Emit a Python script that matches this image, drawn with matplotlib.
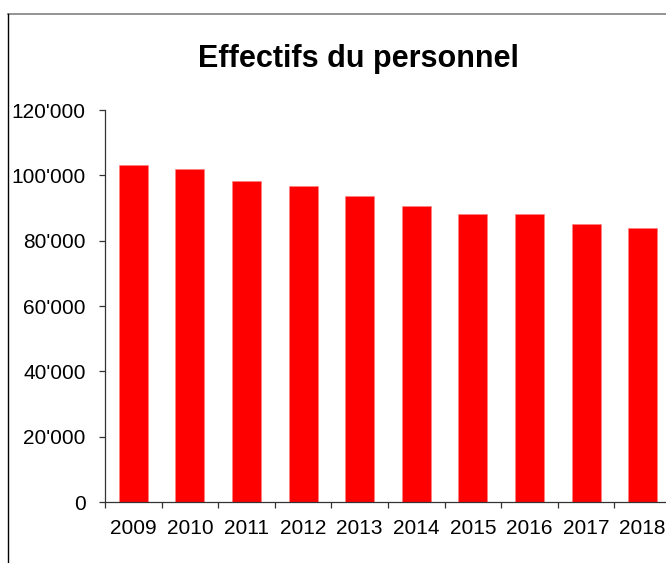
import matplotlib
matplotlib.use('Agg')
import matplotlib.pyplot as plt
from matplotlib.lines import Line2D
from matplotlib.ticker import FuncFormatter, FixedLocator

plt.rcParams['font.family'] = ['Liberation Sans', 'DejaVu Sans']

years = ['2009', '2010', '2011', '2012', '2013', '2014', '2015', '2016', '2017', '2018']
effectifs = [103100, 101900, 98300, 96700, 93800, 90500, 88200, 88100, 85000, 83800]

W, H = 666, 563
fig = plt.figure(figsize=(W / 100, H / 100), dpi=100)

# cadre du graphique (coupe a droite et en bas)
fig.add_artist(Line2D([7.5 / W, 1.0], [1 - 13.5 / H, 1 - 13.5 / H],
                      transform=fig.transFigure, color='#808080', lw=1.2))
fig.add_artist(Line2D([7.5 / W, 7.5 / W], [0.0, 1 - 13.5 / H],
                      transform=fig.transFigure, color='#000000', lw=1.0))

ax = fig.add_axes([105 / W, (H - 502) / H, 566 / W, 392 / H])
x = list(range(len(years)))
ax.bar(x, effectifs, width=0.51, color='#ff0000', edgecolor='#ff8080', linewidth=0.4)

ax.set_xlim(-0.5, len(years) - 0.5)
ax.set_ylim(0, 120000)
ax.set_yticks(range(0, 120001, 20000))
ax.yaxis.set_major_formatter(FuncFormatter(lambda v, p: '0' if v == 0 else f"{int(v):,}".replace(',', "'")))

ax.set_xticks(x)
ax.set_xticklabels(years)
ax.xaxis.set_minor_locator(FixedLocator([i - 0.5 for i in range(len(years) + 1)]))

for s in ['top', 'right']:
    ax.spines[s].set_visible(False)
for s in ['left', 'bottom']:
    ax.spines[s].set_color('#333333')
    ax.spines[s].set_linewidth(0.9)

ax.tick_params(axis='y', length=4.3, width=0.9, color='#333333', labelsize=15, pad=9.5)
ax.tick_params(axis='x', which='major', length=0, labelsize=15, pad=12.5)
ax.tick_params(axis='x', which='minor', length=4.3, width=0.9, color='#333333')

fig.text(358 / W, 1 - 67 / H, 'Effectifs du personnel', ha='center', va='baseline',
         fontsize=22, fontweight='bold')

fig.savefig('out.png', dpi=100)
